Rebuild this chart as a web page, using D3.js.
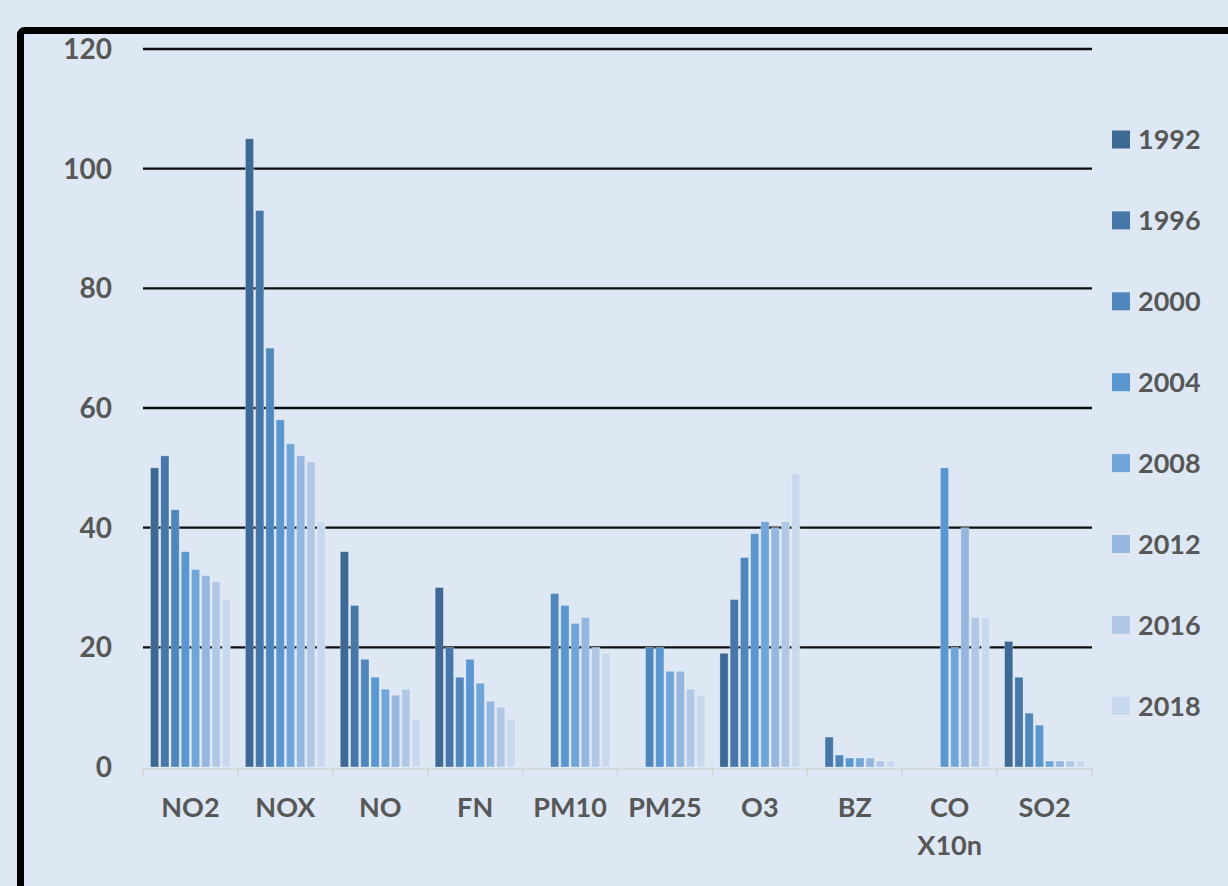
<!DOCTYPE html>
<html>
<head>
<meta charset="utf-8">
<script src="https://cdn.jsdelivr.net/npm/d3@7"></script>
<style>
  html, body { margin: 0; padding: 0; background: #dde8f4; }
  svg { display: block; }
  text { font-family: Lato, "Open Sans", sans-serif; font-weight: 700; fill: #575757; }
</style>
</head>
<body>
<svg id="chart" width="1228" height="886"></svg>
<script>
// Pollutants (CO is scaled x10n)
const categories = ["NO2", "NOX", "NO", "FN", "PM10", "PM25", "O3", "BZ", "CO\nX10n", "SO2"];
const years = ["1992", "1996", "2000", "2004", "2008", "2012", "2016", "2018"];
const yTicks = [0, 20, 40, 60, 80, 100, 120];

// One array per year, in category order
const v1992 = [50, 105, 36, 30, 0, 0, 19, 0, 0, 21];
const v1996 = [52, 93, 27, 20, 0, 0, 28, 5, 0, 15];
const v2000 = [43, 70, 18, 15, 29, 20, 35, 2, 0, 9];
const v2004 = [36, 58, 15, 18, 27, 20, 39, 1.5, 50, 7];
const v2008 = [33, 54, 13, 14, 24, 16, 41, 1.5, 20, 1];
const v2012 = [32, 52, 12, 11, 25, 16, 40, 1.5, 40, 1];
const v2016 = [31, 51, 13, 10, 20, 13, 41, 1, 25, 1];
const v2018 = [28, 41, 8, 8, 19, 12, 49, 1, 25, 1];
const seriesValues = [v1992, v1996, v2000, v2004, v2008, v2012, v2016, v2018];

const colors = ["#3d6994", "#4677a8", "#4f87bd", "#5a96cf", "#70a5d9", "#95b7df", "#b0c8e6", "#c8d8ee"];

const svg = d3.select("#chart");

const plot = { left: 143, right: 1092, top: 49, bottom: 767 };

const x = d3.scaleBand().domain(categories).range([plot.left, plot.right]).padding(0);
const xInner = d3.scaleBand().domain(years)
  .range([7.5, x.bandwidth() - 7.5]).paddingInner(0.2).paddingOuter(0);
const y = d3.scaleLinear().domain([0, 120]).range([plot.bottom, plot.top]);
const color = d3.scaleOrdinal().domain(years).range(colors);

// Horizontal gridlines (behind bars)
svg.append("g").selectAll("line")
  .data(yTicks.filter(d => d > 0))
  .join("line")
  .attr("x1", plot.left).attr("x2", plot.right)
  .attr("y1", d => y(d)).attr("y2", d => y(d))
  .attr("stroke", "#0d0d0d").attr("stroke-width", 2.4);

// Y tick labels
svg.append("g").selectAll("text")
  .data(yTicks)
  .join("text")
  .attr("x", 112).attr("y", d => y(d))
  .attr("text-anchor", "end").attr("dy", "0.36em")
  .attr("font-size", 28)
  .text(d => d);

// Bars
const groups = svg.append("g").selectAll("g")
  .data(categories)
  .join("g")
  .attr("transform", c => `translate(${x(c)},0)`);

groups.selectAll("rect")
  .data((c, ci) => years.map((yr, si) => ({ yr, v: seriesValues[si][ci] })).filter(d => d.v > 0))
  .join("rect")
  .attr("x", d => xInner(d.yr))
  .attr("width", xInner.bandwidth())
  .attr("y", d => y(d.v))
  .attr("height", d => y(0) - y(d.v))
  .attr("fill", d => color(d.yr))
  .attr("stroke", "rgba(255,255,255,0.35)")
  .attr("stroke-width", 0.8);

// Category axis
const axisY = plot.bottom + 2;
const xAxis = svg.append("g");
xAxis.append("line")
  .attr("x1", plot.left).attr("x2", plot.right)
  .attr("y1", axisY).attr("y2", axisY)
  .attr("stroke", "#d3d3d3").attr("stroke-width", 1.5);
xAxis.selectAll("line.tick")
  .data(categories.map(c => x(c)).concat([plot.right]))
  .join("line").attr("class", "tick")
  .attr("x1", d => d).attr("x2", d => d)
  .attr("y1", axisY - 2).attr("y2", axisY + 8)
  .attr("stroke", "#d3d3d3").attr("stroke-width", 1.5);

const labels = xAxis.selectAll("text")
  .data(categories)
  .join("text")
  .attr("x", c => x(c) + x.bandwidth() / 2)
  .attr("y", 817)
  .attr("text-anchor", "middle")
  .attr("font-size", 27);
labels.selectAll("tspan")
  .data(c => c.split("\n"))
  .join("tspan")
  .attr("x", function () { return this.parentNode.getAttribute("x"); })
  .attr("dy", (d, i) => i === 0 ? 0 : 38)
  .text(d => d);

// Legend
const legend = svg.append("g").selectAll("g")
  .data(years)
  .join("g")
  .attr("transform", (d, i) => `translate(1112,${139.5 + i * 80.9})`);
legend.append("rect")
  .attr("x", 0).attr("y", -9).attr("width", 18).attr("height", 18)
  .attr("fill", d => color(d));
legend.append("text")
  .attr("x", 26).attr("y", 0).attr("dy", "0.36em")
  .attr("font-size", 27)
  .text(d => d);

// Outer frame
svg.append("rect")
  .attr("x", 20.5).attr("y", 30.5)
  .attr("width", 1300).attr("height", 1000)
  .attr("rx", 4)
  .attr("fill", "none").attr("stroke", "#000").attr("stroke-width", 7);
</script>
</body>
</html>
